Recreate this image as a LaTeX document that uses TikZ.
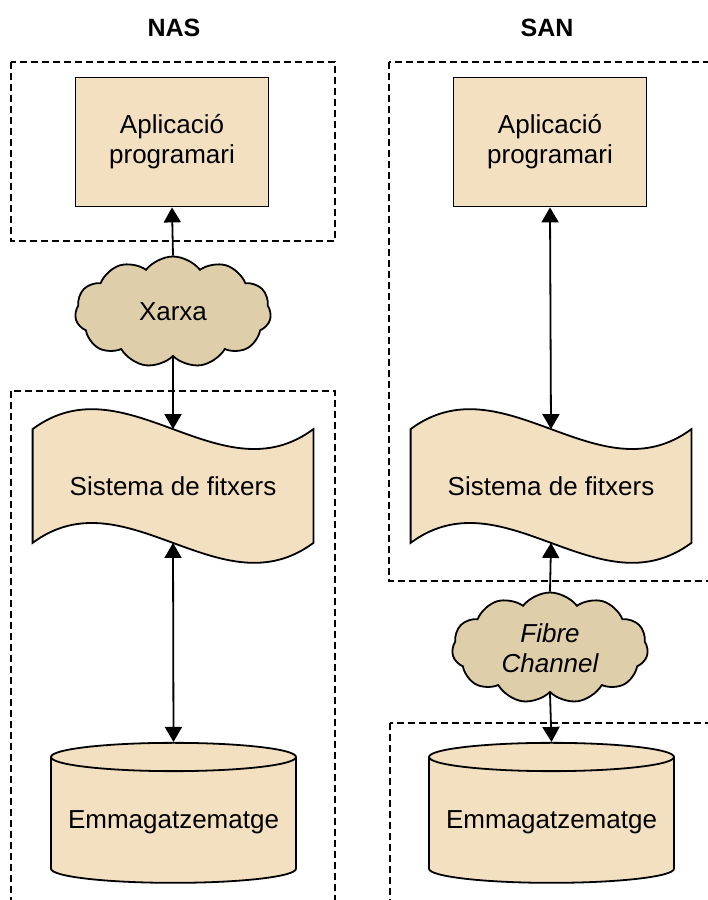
\documentclass[tikz,border=0pt]{standalone}
\usepackage{fontspec}
\setmainfont{Liberation Sans}
\usetikzlibrary{shapes.symbols, shapes.geometric, arrows.meta, backgrounds}

\definecolor{boxfill}{RGB}{243,224,192}
\definecolor{cloudfill}{RGB}{222,206,170}

\begin{document}
\begin{tikzpicture}
            [x=1pt, y=-1pt, line width=1.8pt, >={Triangle[length=15pt,width=17pt]},
             every node/.style={font=\fontsize{26}{30}\selectfont},
             title/.style={font=\fontsize{25}{30}\selectfont\bfseries},
             zone/.style={draw=black, dashed, dash pattern=on 7pt off 4pt},
             appbox/.style={shape=rectangle, draw=black, fill=boxfill, align=center,
                            minimum width=193pt, minimum height=129pt},
             netcloud/.style={shape=cloud, draw=black, fill=cloudfill, align=center,
                              cloud puffs=11, cloud puff arc=105, aspect=1.8, inner sep=0pt,
                              minimum width=196pt, minimum height=111pt},
             fsband/.style={shape=rectangle, draw=none,
                            minimum width=279pt, minimum height=112pt},
             wave/.style={draw=black, line width=1.8pt, fill=boxfill},
             diskcyl/.style={shape=cylinder, shape border rotate=90, draw=black,
                             cylinder uses custom fill, cylinder body fill=boxfill,
                             cylinder end fill=boxfill, aspect=0.13,
                             minimum width=245pt, minimum height=140pt}]
            \useasboundingbox (0, 0) rectangle (708, 900);
            \clip (0, 0) rectangle (708, 900);

            % dashed zones
            \draw[zone] (11, 62) rectangle (335, 241);
            \draw[zone] (11, 391) rectangle (335, 930);
            \draw[zone] (389, 62) rectangle (740, 581);
            \draw[zone] (390, 723) rectangle (740, 930);

            % NAS
            \node[title] (nastitle) at (174, 28) {NAS};
            \node[appbox] (napp) at (172, 142) {Aplicació\\programari};
            \node[netcloud] (nnet) at (173, 312) {Xarxa};
            \node[fsband] (nfs) at (173, 486) {Sistema de fitxers};
            \node[diskcyl] (ndisk) at (173.5, 822) {Emmagatzematge};

            % SAN
            \node[title] (santitle) at (547, 28) {SAN};
            \node[appbox] (sapp) at (550, 142) {Aplicació\\programari};
            \node[fsband] (sfs) at (551, 486) {Sistema de fitxers};
            \node[netcloud] (snet) at (550, 648) {\itshape Fibre\\\itshape Channel};
            \node[diskcyl] (sdisk) at (551.5, 822) {Emmagatzematge};

            % wavy outline behind the file system text
            \begin{scope}[on background layer]
                \foreach \fs in {nfs, sfs}
                    \draw[wave] (\fs.north west) .. controls +(93, -69) and +(-93, 69) .. (\fs.north east)
                        -- (\fs.south east) .. controls +(-93, 69) and +(93, -69) .. (\fs.south west) -- cycle;
            \end{scope}

            \draw [->] (nnet.north) -- (napp.south);
            \draw [->] (nnet.south) -- (nfs.north);
            \draw [<->] (nfs.south) -- (ndisk.north);

            \draw [<->] (sapp.south) -- (sfs.north);
            \draw [->] (snet.north) -- (sfs.south);
            \draw [->] (snet.south) -- (sdisk.north);
        \end{tikzpicture}
\end{document}
